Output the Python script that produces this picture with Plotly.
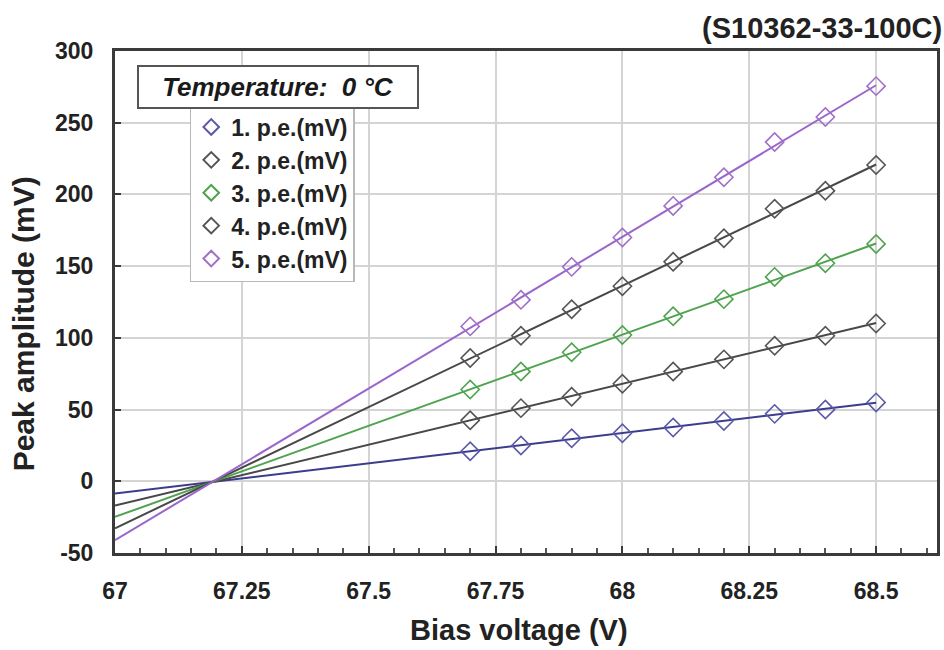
import numpy as np
import plotly.graph_objects as go

# ---- data ----
bias_voltage = [67.7, 67.8, 67.9, 68.0, 68.1, 68.2, 68.3, 68.4, 68.5]
pe1 = [21, 25, 30, 33.5, 37.5, 42, 47, 50, 55]
pe2 = [42.5, 51, 59, 68, 76.5, 85, 94.5, 101.5, 110]
pe3 = [64, 76.5, 90, 102, 115, 127, 142.5, 152, 165.5]
pe4 = [86, 101.5, 120, 136, 153, 169.5, 190, 202.5, 220.5]
pe5 = [108, 126.5, 149.5, 170, 192, 212, 236.5, 254, 275.5]
series_names = ["1. p.e.(mV)", "2. p.e.(mV)", "3. p.e.(mV)", "4. p.e.(mV)", "5. p.e.(mV)"]
trend_extent = [67.0, 68.5]
x_ticks = [67, 67.25, 67.5, 67.75, 68, 68.25, 68.5]
x_tick_text = ["67", "67.25", "67.5", "67.75", "68", "68.25", "68.5"]
y_ticks = [-50, 0, 50, 100, 150, 200, 250, 300]
y_tick_text = ["-50", "0", "50", "100", "150", "200", "250", "300"]

series = [pe1, pe2, pe3, pe4, pe5]
line_colors = ["#3c3c8c", "#484848", "#4fa34f", "#484848", "#9a66cc"]
marker_colors = ["#5a5aa8", "#555555", "#4fa34f", "#555555", "#a070c8"]

FONT = "Liberation Sans, Arial, sans-serif"

fig = go.Figure()

for name, ys, lc, mc in zip(series_names, series, line_colors, marker_colors):
    slope, intercept = np.polyfit(bias_voltage, ys, 1)
    xt = np.array(trend_extent)
    fig.add_trace(go.Scatter(
        x=xt, y=slope * xt + intercept, mode="lines",
        line=dict(color=lc, width=2), showlegend=False, hoverinfo="skip"))

for name, ys, lc, mc in zip(series_names, series, line_colors, marker_colors):
    fig.add_trace(go.Scatter(
        x=bias_voltage, y=ys, mode="markers", name=name,
        marker=dict(symbol="diamond-open", size=14, color=mc,
                    line=dict(width=1.6, color=mc))))

W, H = 944, 650
L, R, T, B = 115, 4, 51, 97
pw, ph = W - L - R, H - T - B

def px(xp):
    return (xp - L) / pw

def py(yp):
    return (H - B - yp) / ph

fig.update_layout(
    width=W, height=H,
    margin=dict(l=L, r=R, t=T, b=B),
    paper_bgcolor="white", plot_bgcolor="white",
    font=dict(family=FONT, color="#222222"),
    showlegend=True,
    legend=dict(
        x=px(190), y=py(104), xanchor="left", yanchor="top",
        bgcolor="white", bordercolor="#b8b8b8", borderwidth=1.5,
        font=dict(family=FONT, size=23, color="#222222", weight="bold"),
        itemsizing="constant", tracegroupgap=0,
    ),
    xaxis=dict(
        range=[67, 68.62], tickvals=x_ticks, ticktext=x_tick_text,
        showgrid=True, gridcolor="#d4d4d4", gridwidth=1.5,
        showline=True, linecolor="#3a3a3a", linewidth=3, mirror=True,
        ticks="inside", ticklen=7, tickcolor="#3a3a3a", tickwidth=1.5,
        minor=dict(dtick=0.05, ticks="inside", ticklen=5, tickcolor="#555555", showgrid=False),
        tickfont=dict(family=FONT, size=23, color="#222222", weight="bold"),
        ticklabelstandoff=15, zeroline=False,
    ),
    yaxis=dict(
        range=[-50, 300], tickvals=y_ticks, ticktext=y_tick_text,
        showgrid=True, gridcolor="#d4d4d4", gridwidth=1.5,
        showline=True, linecolor="#3a3a3a", linewidth=3, mirror=True,
        ticks="inside", ticklen=6, tickcolor="#3a3a3a", tickwidth=1.5,
        tickfont=dict(family=FONT, size=23, color="#222222", weight="bold"),
        ticklabelstandoff=14, zeroline=False,
    ),
    annotations=[
        dict(text="<b>(S10362-33-100C)</b>", xref="paper", yref="paper",
             x=px(947), y=py(28), xanchor="right", yanchor="middle",
             showarrow=False, font=dict(family=FONT, size=29, color="#222222")),
        dict(text="<b>Bias voltage (V)</b>", xref="paper", yref="paper",
             x=px(520), y=py(630), xanchor="center", yanchor="middle",
             showarrow=False, font=dict(family=FONT, size=29, color="#222222")),
        dict(text="<b>Peak amplitude (mV)</b>", xref="paper", yref="paper",
             x=px(23), y=py(324), xanchor="center", yanchor="middle", textangle=-90,
             showarrow=False, font=dict(family=FONT, size=30, color="#222222")),
        dict(text="<b><i>Temperature:\u00a0\u00a00\u00a0°C</i></b>", xref="paper", yref="paper",
             x=px(279), y=py(87), xanchor="center", yanchor="middle",
             showarrow=False, bgcolor="white", bordercolor="#555555", borderwidth=2,
             borderpad=5, width=268,
             font=dict(family=FONT, size=26, color="#1a1a1a")),
    ],
)

fig.write_html("out.html")
